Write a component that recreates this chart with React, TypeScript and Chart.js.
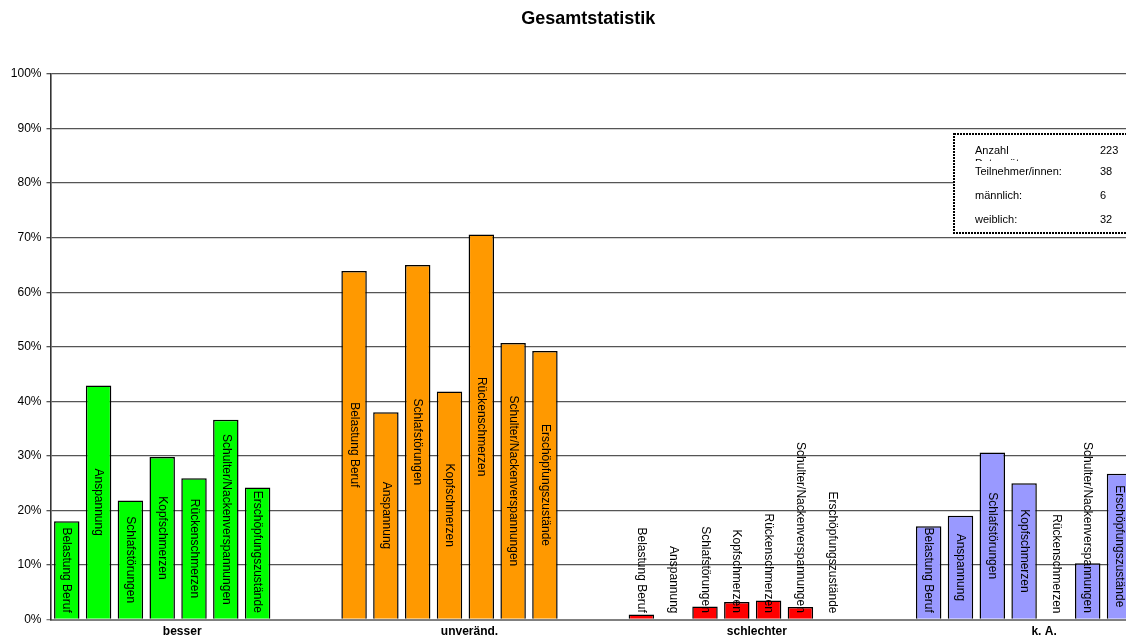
import React, { useEffect, useRef } from 'react';
import { Chart, registerables } from 'chart.js';

Chart.register(...registerables);

const FONT = "'Liberation Sans', Arial, Helvetica, sans-serif";

const chartTitle = 'Gesamtstatistik';
const categories = ['besser', 'unveränd.', 'schlechter', 'k. A.'];
const groupColors = ['#00FF00', '#FF9900', '#FF0000', '#9999FF'];

const seriesNames = [
  'Belastung Beruf',
  'Anspannung',
  'Schlafstörungen',
  'Kopfschmerzen',
  'Rückenschmerzen',
  'Schulter/Nackenverspannungen',
  'Erschöpfungszustände',
];

// values in % for [besser, unveränd., schlechter, k. A.]
const belastungBeruf = [18.0, 63.9, 0.9, 17.1];
const anspannung = [42.9, 38.0, 0, 19.0];
const schlafstoerungen = [21.8, 65.0, 2.4, 30.6];
const kopfschmerzen = [29.8, 41.8, 3.2, 25.0];
const rueckenschmerzen = [25.9, 70.6, 3.5, 0];
const schulterNacken = [36.6, 50.7, 2.3, 10.3];
const erschoepfung = [24.2, 49.2, 0, 26.7];

const seriesValues = [
  belastungBeruf,
  anspannung,
  schlafstoerungen,
  kopfschmerzen,
  rueckenschmerzen,
  schulterNacken,
  erschoepfung,
];

const yTickStep = 10;
const yMax = 100;

const infoLabels = ['Anzahl Datensätze', 'Teilnehmer/innen:', 'männlich:', 'weiblich:'];
const infoValues = ['223', '38', '6', '32'];

const barLabelPlugin = {
  id: 'barLabels',
  afterDatasetsDraw(chart: any) {
    const ctx = chart.ctx;
    const area = chart.chartArea;
    ctx.save();
    ctx.beginPath();
    ctx.rect(area.left, 0, area.right - area.left, chart.height);
    ctx.clip();
    ctx.font = `12px ${FONT}`;
    ctx.fillStyle = '#000';
    ctx.textAlign = 'center';
    ctx.textBaseline = 'middle';
    chart.data.datasets.forEach((ds: any, i: number) => {
      const meta = chart.getDatasetMeta(i);
      meta.data.forEach((el: any) => {
        const label = ds.label as string;
        const L = ctx.measureText(label).width;
        const center = (el.y + el.base) / 2;
        const cy = Math.min(center, el.base - 6 - L / 2);
        ctx.save();
        ctx.translate(el.x, cy);
        ctx.rotate(Math.PI / 2);
        ctx.fillText(label, 0, 0);
        ctx.restore();
      });
    });
    ctx.restore();
  },
};

const infoBoxPlugin = {
  id: 'infoBox',
  afterDraw(chart: any) {
    const ctx = chart.ctx;
    const left = 954;
    const top = 134;
    const right = chart.width + 10;
    const bottom = 233;
    const labelX = 975;
    const valueX = 1100;
    const rowY = [150.5, 172, 196, 219.5];
    ctx.save();
    ctx.fillStyle = '#fff';
    ctx.fillRect(left, top, right - left, bottom - top);
    ctx.setLineDash([2, 1]);
    ctx.lineWidth = 2;
    ctx.strokeStyle = '#000';
    ctx.strokeRect(left, top, right - left, bottom - top);
    ctx.setLineDash([]);
    ctx.font = `11px ${FONT}`;
    ctx.textAlign = 'left';
    ctx.textBaseline = 'middle';
    infoLabels.forEach((lab, i) => {
      const y = rowY[i];
      if (i > 0) {
        ctx.fillStyle = '#fff';
        ctx.fillRect(left + 4, y - 11, 160, 22);
      }
      ctx.fillStyle = '#000';
      const words = lab.split(' ');
      if (i === 0 && words.length > 1) {
        ctx.fillText(words[0], labelX, y);
        ctx.fillText(words.slice(1).join(' '), labelX, y + 13);
      } else {
        ctx.fillText(lab, labelX, y);
      }
      ctx.fillText(infoValues[i], valueX, y);
    });
    ctx.restore();
  },
};

export default function App() {
  const canvasRef = useRef<HTMLCanvasElement | null>(null);

  useEffect(() => {
    if (!canvasRef.current) return;
    const datasets = seriesNames.map((name, i) => ({
      label: name,
      data: seriesValues[i].map((v, k) => ({ x: k, y: v })),
      backgroundColor: categories.map((_, k) => groupColors[k]),
      borderColor: '#000',
      borderWidth: 1.5,
      categoryPercentage: 0.775,
      barPercentage: 0.8,
    }));

    const chart = new Chart(canvasRef.current, {
      type: 'bar',
      data: { datasets },
      plugins: [barLabelPlugin, infoBoxPlugin],
      options: {
        animation: false,
        responsive: true,
        maintainAspectRatio: false,
        layout: { padding: 0 },
        plugins: {
          legend: { display: false },
          tooltip: { enabled: false },
          title: {
            display: true,
            text: chartTitle,
            fullSize: false,
            color: '#000',
            font: { family: FONT, size: 18, weight: 'bold' },
            padding: { top: 8.5, bottom: 43.9 },
          },
        },
        scales: {
          x: {
            type: 'linear',
            bounds: 'data',
            offset: false,
            min: -0.3888,
            max: 3.3547,
            grid: { display: false, drawTicks: false, offset: false },
            border: { display: true, color: '#808080', width: 2 },
            afterBuildTicks: (scale: any) => {
              scale.ticks = categories.map((_, i) => ({ value: i }));
            },
            ticks: {
              autoSkip: false,
              maxRotation: 0,
              padding: 5,
              labelOffset: 20,
              color: '#000',
              font: { family: FONT, size: 12, weight: 'bold' },
              callback: (v: any) => (categories[Math.round(v)] !== undefined ? categories[Math.round(v)] : ''),
            },
            afterFit: (scale: any) => {
              scale.height = 19.5;
            },
          },
          y: {
            min: 0,
            max: yMax,
            grid: {
              color: (c: any) => (c.tick && c.tick.value === 0 ? '#808080' : '#555'),
              lineWidth: 1.3,
              drawTicks: true,
              tickLength: 4,
            },
            border: { display: true, color: '#333', width: 1.6 },
            ticks: {
              stepSize: yTickStep,
              padding: 5,
              color: '#000',
              font: { family: FONT, size: 12 },
              callback: (v: any) => `${v}%`,
            },
            afterFit: (scale: any) => {
              scale.width = 50.5;
            },
          },
        },
      } as any,
    });
    return () => chart.destroy();
  }, []);

  return (
    <div style={{ position: 'absolute', left: 0, top: 0, width: 1126, height: 639, background: '#fff' }}>
      <canvas ref={canvasRef} />
    </div>
  );
}
